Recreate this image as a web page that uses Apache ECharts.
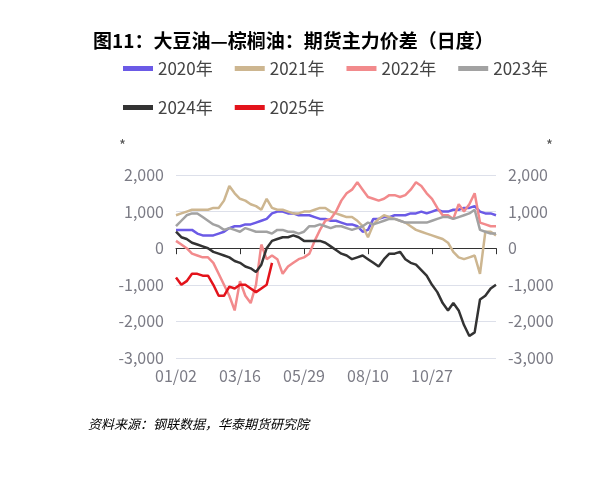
<!DOCTYPE html><html><head><meta charset="utf-8"><script src="https://cdn.jsdelivr.net/npm/echarts@6/dist/echarts.min.js"></script></head><body style="margin:0"><div id="c" style="width:599px;height:478px"></div><script>
const tickLabels=['01/02','03/16','05/29','08/10','10/27',''];
const categories=Array.from({length:61},(_,i)=>i%12===0?tickLabels[i/12]:'d'+i);
const s2020=[500,500,500,500,400,350,350,350,400,450,550,600,600,650,650,700,750,800,950,1000,1000,950,950,900,900,900,850,800,800,750,750,700,650,650,600,450,500,800,800,850,850,900,900,900,950,950,1000,950,1000,1050,1000,1000,1050,1050,1100,1100,1150,1000,950,950,900];
const s2021=[900,950,1000,1050,1050,1050,1050,1100,1100,1300,1700,1500,1350,1300,1200,1150,1050,1350,1100,1050,1050,1000,950,950,1000,1000,1050,1100,1100,1000,950,900,850,850,750,600,300,650,800,900,850,800,750,700,600,500,450,400,350,300,250,150,-100,-250,-300,-250,-200,-700,450,450,350];
const s2022=[200,100,0,-150,-200,-250,-250,-400,-700,-1000,-1300,-1700,-900,-1300,-1500,-1000,100,-300,-200,-300,-700,-500,-400,-300,-250,-150,200,500,750,800,1000,1300,1500,1600,1800,1600,1400,1350,1300,1350,1450,1450,1400,1450,1600,1800,1700,1500,1350,1100,900,900,800,1200,1000,1200,1500,700,650,600,600];
const s2023=[600,750,900,950,950,850,750,650,600,500,550,500,450,550,500,450,450,450,400,500,500,450,450,400,450,600,600,650,600,550,600,600,550,500,550,600,700,650,700,750,800,800,750,700,700,700,700,700,750,800,850,850,800,850,900,950,1050,500,450,400,400];
const s2024=[450,300,250,150,100,50,0,-100,-150,-200,-250,-350,-400,-500,-550,-650,-450,0,200,250,300,300,350,300,200,200,200,200,150,50,-50,-150,-200,-300,-250,-200,-300,-400,-500,-300,-150,-150,-100,-300,-400,-450,-600,-750,-1000,-1200,-1500,-1700,-1500,-1700,-2100,-2400,-2300,-1400,-1300,-1100,-1000];
const s2025=[-800,-1000,-900,-700,-700,-750,-750,-1000,-1300,-1300,-1050,-1100,-1000,-1000,-1100,-1200,-1100,-1000,-400];
const names=['2020年','2021年','2022年','2023年','2024年','2025年'];
const colors=['#6b5ae6','#cdb690','#f28a8c','#a2a2a2','#333333','#e3131b'];
const data=[s2020,s2021,s2022,s2023,s2024,s2025];
const F='"Noto Sans CJK SC","Noto Sans",sans-serif';
const ch=echarts.init(document.getElementById('c'));
const yax=(pos)=>({type:'value',position:pos,min:-3000,max:2000,interval:1000,name:'*',nameGap:22,nameTextStyle:{color:'#555',fontSize:15,align:pos==='left'?'right':'left',padding:pos==='left'?[0,50,0,0]:[0,0,0,50]},axisLabel:{color:'#7b7b85',fontSize:16,margin:12,formatter:v=>v.toLocaleString('en-US')},splitLine:{show:pos==='left',lineStyle:{color:'#dde0ea'}},axisLine:{show:false},axisTick:{show:false}});
ch.setOption({
 textStyle:{fontFamily:F},
 title:{text:'图11：大豆油—棕榈油：期货主力价差（日度）',left:88,top:26,textStyle:{fontSize:19,fontWeight:'bold',color:'#000',fontFamily:F}},
 legend:{left:118,top:55,width:480,itemWidth:30,itemHeight:5,itemGap:22,textStyle:{fontSize:17,color:'#444',fontFamily:F},data:names.map(n=>({name:n,icon:'rect'}))},
 grid:{left:176,right:103,top:175,bottom:120},
 xAxis:{type:'category',data:categories,boundaryGap:false,axisLine:{lineStyle:{color:'#333'}},axisTick:{interval:11,length:6,lineStyle:{color:'#333'}},axisLabel:{interval:11,color:'#7b7b85',fontSize:16,margin:10}},
 yAxis:[yax('left'),yax('right')],
 graphic:[{type:'text',left:88,top:418,style:{text:'资料来源：钢联数据，华泰期货研究院',fontSize:13,fontStyle:'italic',fill:'#000',fontFamily:F}}],
 series:data.map((d,i)=>({name:names[i],type:'line',data:d,showSymbol:false,symbol:'none',color:colors[i],lineStyle:{width:2.5,color:colors[i]},z:i===5?10:(i===4?9:2)}))
});
</script></body></html>
